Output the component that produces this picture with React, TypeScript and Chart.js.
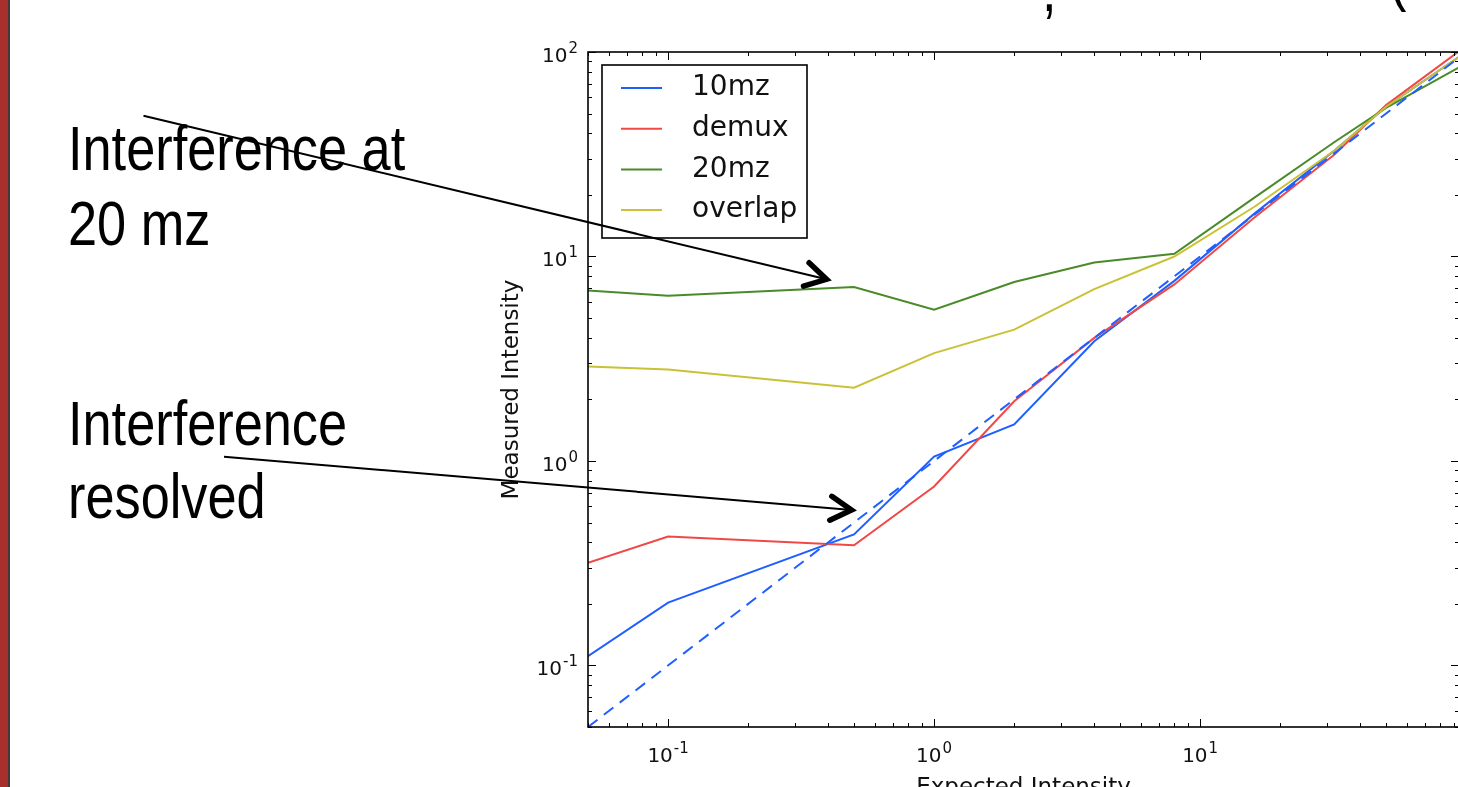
import React, { useEffect, useRef } from 'react';
import { Chart, registerables } from 'chart.js';

Chart.register(...registerables);

// ---- data ----
const expectedIntensity = [0.05, 0.1, 0.5, 1, 2, 4, 8, 16, 32, 50, 100];
const measured10mz = [0.111, 0.203, 0.437, 1.05, 1.51, 3.85, 7.6, 16.2, 33, 54, 100];
const measuredDemux = [0.318, 0.427, 0.387, 0.75, 1.96, 4.0, 7.3, 15.5, 31.5, 55, 107];
const measured20mz = [6.82, 6.43, 7.09, 5.49, 7.5, 9.35, 10.3, 19.4, 36.3, 53.3, 88];
const measuredOverlap = [2.9, 2.8, 2.28, 3.37, 4.39, 6.93, 10.0, 17.5, 33, 54, 100];
const idealLine = [0.05, 100]; // measured = expected

const seriesNames = ['10mz', 'demux', '20mz', 'overlap'];
const seriesValues = [measured10mz, measuredDemux, measured20mz, measuredOverlap];
const seriesColors = ['#1f5fff', '#f04848', '#4a8a28', '#c9c236'];

const xTickValues = [0.1, 1, 10];
const xTickLabels = ['10^-1', '10^0', '10^1'];
const yTickValues = [0.1, 1, 10, 100];
const yTickLabels = ['10^-1', '10^0', '10^1', '10^2'];

const xMin = 0.05;
const xMax = 94;
const yMin = 0.05;
const yMax = 100;

const FONT = '"DejaVu Sans", sans-serif';
const SLIDE_FONT = '"Liberation Sans", Arial, sans-serif';

function logTicks(min: number, max: number) {
  const out: number[] = [];
  for (let e = Math.floor(Math.log10(min)); e <= Math.ceil(Math.log10(max)); e++) {
    for (let m = 1; m < 10; m++) {
      const v = parseFloat((m * Math.pow(10, e)).toPrecision(8));
      if (v >= min * (1 - 1e-9) && v <= max * (1 + 1e-9)) out.push(v);
    }
  }
  return out;
}
const isDecade = (v: number) => Math.abs(Math.log10(v) - Math.round(Math.log10(v))) < 1e-9;

function drawPowerLabel(ctx: CanvasRenderingContext2D, label: string, x: number, baseline: number, align: 'right' | 'center') {
  const [b, e] = label.split('^');
  ctx.font = `20px ${FONT}`;
  const wb = ctx.measureText(b).width;
  ctx.font = `15px ${FONT}`;
  const we = ctx.measureText(e).width;
  const gap = 1;
  const total = wb + gap + we;
  const x0 = align === 'right' ? x - total : x - total / 2;
  ctx.textAlign = 'left';
  ctx.textBaseline = 'alphabetic';
  ctx.fillStyle = '#111';
  ctx.font = `20px ${FONT}`;
  ctx.fillText(b, x0, baseline);
  ctx.font = `15px ${FONT}`;
  ctx.fillText(e, x0 + wb + gap, baseline - 9);
}

const framePlugin = {
  id: 'frameTicksLegend',
  afterDraw(chart: any) {
    const { ctx, chartArea: a, scales } = chart;
    ctx.save();
    ctx.strokeStyle = '#000';
    ctx.lineWidth = 1;
    const seg = (x1: number, y1: number, x2: number, y2: number) => {
      ctx.beginPath();
      ctx.moveTo(x1, y1);
      ctx.lineTo(x2, y2);
      ctx.stroke();
    };
    for (const t of scales.x.ticks) {
      const px = Math.round(scales.x.getPixelForValue(t.value)) + 0.5;
      const len = isDecade(t.value) ? 8 : 4;
      seg(px, a.bottom, px, a.bottom - len);
      seg(px, a.top, px, a.top + len);
    }
    for (const t of scales.y.ticks) {
      const py = Math.round(scales.y.getPixelForValue(t.value)) + 0.5;
      const len = isDecade(t.value) ? 8 : 4;
      seg(a.left, py, a.left + len, py);
      seg(a.right, py, a.right - len, py);
    }
    ctx.lineWidth = 1.6;
    ctx.strokeRect(a.left, a.top, a.right - a.left, a.bottom - a.top);

    // tick labels
    xTickValues.forEach((v, i) => {
      drawPowerLabel(ctx, xTickLabels[i], scales.x.getPixelForValue(v), a.bottom + 35, 'center');
    });
    yTickValues.forEach((v, i) => {
      drawPowerLabel(ctx, yTickLabels[i], a.left - 10, scales.y.getPixelForValue(v) + 9.7, 'right');
    });

    // legend box
    const lx = a.left + 14;
    const ly = a.top + 13;
    const lw = 205;
    const lh = 173;
    ctx.fillStyle = '#fff';
    ctx.fillRect(lx, ly, lw, lh);
    ctx.lineWidth = 1.6;
    ctx.strokeStyle = '#000';
    ctx.strokeRect(lx, ly, lw, lh);
    ctx.font = '28px ' + FONT;
    ctx.textBaseline = 'middle';
    ctx.textAlign = 'left';
    seriesNames.forEach((name, i) => {
      const yy = ly + 23 + i * 40.7;
      ctx.strokeStyle = seriesColors[i];
      ctx.lineWidth = 2;
      seg(lx + 19, yy, lx + 60, yy);
      ctx.fillStyle = '#111';
      ctx.fillText(name, lx + 90, yy);
    });
    ctx.restore();
  },
};

const arrows = [
  { from: [143.5, 115.7], to: [826.5, 279.3] },
  { from: [224, 456.7], to: [851.5, 510] },
];

function arrowHead(from: number[], to: number[], len: number, ang: number) {
  const dx = from[0] - to[0];
  const dy = from[1] - to[1];
  const d = Math.hypot(dx, dy);
  const ux = dx / d;
  const uy = dy / d;
  const rot = (a: number) => [
    to[0] + len * (ux * Math.cos(a) - uy * Math.sin(a)),
    to[1] + len * (ux * Math.sin(a) + uy * Math.cos(a)),
  ];
  const p1 = rot(ang);
  const p2 = rot(-ang);
  return `${p1[0]},${p1[1]} ${to[0]},${to[1]} ${p2[0]},${p2[1]}`;
}

export default function App() {
  const canvasRef = useRef<HTMLCanvasElement | null>(null);

  useEffect(() => {
    if (!canvasRef.current) return;
    Chart.defaults.color = '#000';
    const datasets: any[] = seriesValues.map((vals, i) => ({
      label: seriesNames[i],
      data: expectedIntensity.map((x, j) => ({ x, y: vals[j] })),
      borderColor: seriesColors[i],
      backgroundColor: seriesColors[i],
      borderWidth: 2,
      pointRadius: 0,
      tension: 0,
      fill: false,
      order: 10 - i,
    }));
    datasets.push({
      label: 'expected',
      data: idealLine.map((v) => ({ x: v, y: v })),
      borderColor: seriesColors[0],
      borderWidth: 2,
      borderDash: [12, 8],
      pointRadius: 0,
      tension: 0,
      fill: false,
      order: 0,
    });

    const chart = new Chart(canvasRef.current, {
      type: 'line',
      data: { datasets },
      options: {
        animation: false,
        responsive: false,
        maintainAspectRatio: false,
        layout: { padding: { left: 496, top: 52, right: 3, bottom: 0 } },
        plugins: { legend: { display: false }, tooltip: { enabled: false } },
        scales: {
          x: {
            type: 'logarithmic',
            min: xMin,
            max: xMax,
            afterBuildTicks: (scale: any) => {
              scale.ticks = logTicks(scale.min, scale.max).map((v) => ({ value: v, major: isDecade(v) }));
            },
            afterFit: (scale: any) => {
              scale.height = 60;
              scale.paddingLeft = 0;
              scale.paddingRight = 0;
            },
            grid: { display: false, drawTicks: false },
            border: { display: false },
            ticks: { display: false, autoSkip: false, maxRotation: 0, minRotation: 0 },
            title: {
              display: true,
              text: 'Expected Intensity',
              color: '#111',
              font: { family: FONT, size: 23, lineHeight: 1 },
              padding: { top: 0, bottom: -12.5 },
            },
          },
          y: {
            type: 'logarithmic',
            min: yMin,
            max: yMax,
            afterBuildTicks: (scale: any) => {
              scale.ticks = logTicks(scale.min, scale.max).map((v) => ({ value: v, major: isDecade(v) }));
            },
            afterFit: (scale: any) => {
              scale.width = 92;
              scale.paddingTop = 0;
              scale.paddingBottom = 0;
            },
            grid: { display: false, drawTicks: false },
            border: { display: false },
            ticks: { display: false, autoSkip: false },
            title: {
              display: true,
              text: 'Measured Intensity',
              color: '#111',
              font: { family: FONT, size: 23, lineHeight: 1 },
              padding: { top: 4.5, bottom: 0 },
            },
          },
        },
      },
      plugins: [framePlugin],
    } as any);
    return () => chart.destroy();
  }, []);

  const textStyle: React.CSSProperties = {
    position: 'absolute',
    left: 68,
    fontFamily: SLIDE_FONT,
    fontSize: 63,
    color: '#000',
    whiteSpace: 'nowrap',
    transform: 'scaleX(0.83)',
    transformOrigin: 'left top',
  };

  return (
    <div
      style={{
        position: 'fixed',
        left: 0,
        top: 0,
        width: 1458,
        height: 787,
        overflow: 'hidden',
        background: '#fff',
      }}
    >
      <canvas
        ref={canvasRef}
        width={1462}
        height={787}
        style={{ position: 'absolute', left: 0, top: 0, width: 1462, height: 787 }}
      />
      <div style={{ position: 'absolute', left: 0, top: 0, width: 8, height: 787, background: '#a8302c' }} />
      <div style={{ position: 'absolute', left: 8, top: 0, width: 1.5, height: 787, background: '#3c3c3c' }} />
      <div style={{ ...textStyle, top: 111, lineHeight: '75px' }}>
        Interference at
        <br />
        20 mz
      </div>
      <div style={{ ...textStyle, top: 386.7, lineHeight: '73px' }}>
        Interference
        <br />
        resolved
      </div>
      <span style={{ ...textStyle, left: 1042, top: -42, lineHeight: '63px' }}>,</span>
      <span style={{ ...textStyle, left: 1389, top: -54, lineHeight: '63px' }}>(</span>
      <svg
        width={1458}
        height={787}
        style={{ position: 'absolute', left: 0, top: 0, pointerEvents: 'none' }}
      >
        {arrows.map((a, i) => (
          <g key={i}>
            <line x1={a.from[0]} y1={a.from[1]} x2={a.to[0]} y2={a.to[1]} stroke="#000" strokeWidth={2} />
            <polyline
              points={arrowHead(a.from, a.to, 24, (30 * Math.PI) / 180)}
              fill="none"
              stroke="#000"
              strokeWidth={5.5}
              strokeLinecap="round"
              strokeLinejoin="miter"
            />
          </g>
        ))}
      </svg>
    </div>
  );
}
